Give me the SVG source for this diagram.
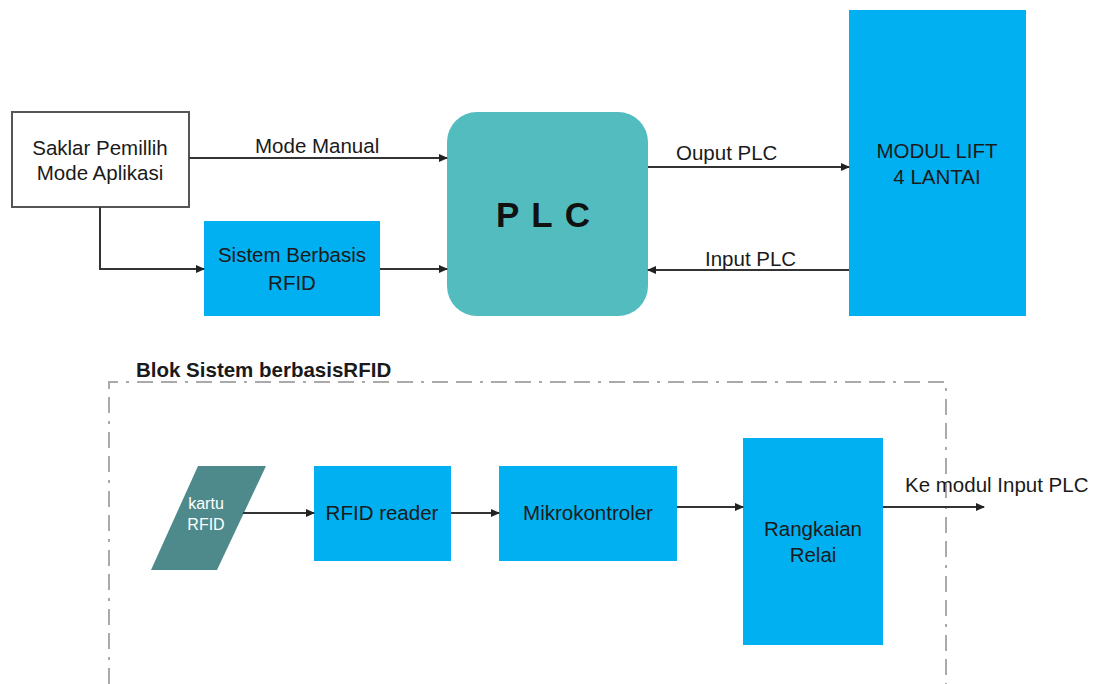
<svg xmlns="http://www.w3.org/2000/svg" width="1104" height="684" viewBox="0 0 1104 684">
<defs>
<marker id="arr" markerWidth="10" markerHeight="10" refX="8" refY="5" orient="auto" markerUnits="userSpaceOnUse">
<path d="M0,1 L9,5 L0,9 Z" fill="#222"/>
</marker>
<style>
.t{font-family:"Liberation Sans",Arial,sans-serif;font-size:20.5px;fill:#1a1a1a;text-anchor:middle}
.l{font-family:"Liberation Sans",Arial,sans-serif;font-size:20.5px;fill:#1a1a1a}
.blue{fill:#00B0F0}
.c{stroke:#333;stroke-width:2;fill:none}
.ca{stroke:#333;stroke-width:2;fill:none;marker-end:url(#arr)}
</style>
</defs>
<rect width="1104" height="684" fill="#fff"/>

<g id="saklar">
<rect x="12" y="112" width="177" height="95" fill="#fff" stroke="#555" stroke-width="2"/>
<text class="t" x="100" y="155">Saklar Pemillih</text>
<text class="t" x="100" y="180">Mode Aplikasi</text>
</g>
<g id="sistem-rfid">
<rect class="blue" x="204" y="221" width="176" height="95"/>
<text class="t" x="292" y="262">Sistem Berbasis</text>
<text class="t" x="292" y="290">RFID</text>
</g>
<g id="plc">
<rect x="447" y="112" width="201" height="204" rx="30" fill="#52BCBF"/>
<text x="549" y="227" font-family="'Liberation Sans',Arial,sans-serif" font-size="35" font-weight="bold" fill="#111" text-anchor="middle" letter-spacing="12">PLC</text>
</g>
<g id="modul-lift">
<rect class="blue" x="849" y="10" width="177" height="306"/>
<text class="t" x="937" y="158">MODUL LIFT</text>
<text class="t" x="937" y="184">4 LANTAI</text>
</g>

<g id="blok-rfid">
<path d="M109,684 V382 H946 V684" fill="none" stroke="#aaa" stroke-width="2" stroke-dasharray="16,8,3,8,16,8"/>
<text x="136" y="377" font-family="'Liberation Sans',Arial,sans-serif" font-size="20.5" font-weight="bold" fill="#1a1a1a">Blok Sistem berbasisRFID</text>
</g>
<g id="kartu">
<polygon points="198,466 266,466 217,570 151,570" fill="#4E8A8C"/>
<text x="206" y="509" font-family="'Liberation Sans',Arial,sans-serif" font-size="16" fill="#fff" text-anchor="middle">kartu</text>
<text x="206" y="530" font-family="'Liberation Sans',Arial,sans-serif" font-size="16" fill="#fff" text-anchor="middle">RFID</text>
</g>
<g id="rfid-reader">
<rect class="blue" x="314" y="466" width="137" height="95"/>
<text class="t" x="382" y="520">RFID reader</text>
</g>
<g id="mikrokontroler">
<rect class="blue" x="499" y="466" width="178" height="95"/>
<text class="t" x="588" y="520">Mikrokontroler</text>
</g>
<g id="relai">
<rect class="blue" x="743" y="438" width="140" height="207"/>
<text class="t" x="813" y="536">Rangkaian</text>
<text class="t" x="813" y="562">Relai</text>
</g>

<g id="connectors">
<line class="ca" x1="189" y1="158" x2="447" y2="158"/>
<text class="l" x="255" y="153">Mode Manual</text>
<path class="ca" d="M100,207 V269 H204"/>
<line class="ca" x1="380" y1="269" x2="447" y2="269"/>
<line class="ca" x1="648" y1="167" x2="849" y2="167"/>
<text class="l" x="676" y="160">Ouput PLC</text>
<line class="ca" x1="849" y1="270" x2="648" y2="270"/>
<text class="l" x="705" y="266">Input PLC</text>
<line class="ca" x1="243" y1="513" x2="314" y2="513"/>
<line class="ca" x1="451" y1="513" x2="499" y2="513"/>
<line class="ca" x1="677" y1="507" x2="743" y2="507"/>
<line class="ca" x1="883" y1="507" x2="984" y2="507"/>
<text class="l" x="905" y="492">Ke modul Input PLC</text>
</g>
</svg>
